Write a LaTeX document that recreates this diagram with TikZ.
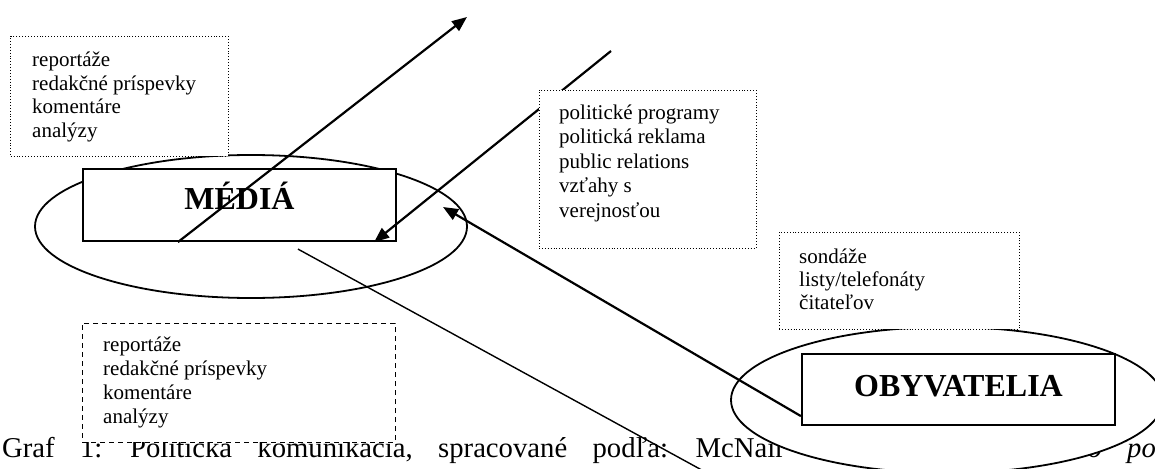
\documentclass[tikz,border=0pt]{standalone}
\usepackage{fontspec}
\setmainfont{Liberation Serif}
\usetikzlibrary{shapes.geometric,arrows.meta}
\tikzset{
 dotbox/.style={draw, dotted, line width=0.9pt, fill=white, inner sep=0, rectangle},
 dashbox/.style={draw, dash pattern=on 5pt off 4pt, line width=0.9pt, fill=white, inner sep=0, rectangle},
 solidbox/.style={draw, line width=2.2pt, fill=white, inner sep=0, rectangle},
 ell/.style={draw, ellipse, line width=1.8pt, fill=white, inner sep=0},
 arr/.style={line width=2.2pt, -{Triangle[length=15pt,width=12pt]}},
 thinline/.style={line width=1.4pt},
 listtext/.style={anchor=base west, inner sep=0, font=\fontsize{21}{23.4}\selectfont},
 captext/.style={anchor=base west, inner sep=0, font=\fontsize{28.7}{30}\selectfont},
 bigtext/.style={anchor=base, inner sep=0, font=\fontsize{32}{36}\selectfont\bfseries},
}
\begin{document}
\begin{tikzpicture}[x=1pt,y=-1pt]
\useasboundingbox (0,0) rectangle (1155,468);
\clip (0,0) rectangle (1155,468);
% caption (justified line, wide spaces)
\node[captext] (cap) at (2,457) {\spaceskip=25.3pt plus 0pt minus 0pt\relax Graf 1: Politická komunikácia, spracované podľa: McNair B.};
\node[captext] (cap2) at (1073,457) {\spaceskip=25.3pt plus 0pt minus 0pt\relax\itshape do pol};
% ellipses
\node[ell, minimum width=432, minimum height=143] (mediaell) at (251,226.5) {};
\node[ell, minimum width=432, minimum height=146] (obyvell) at (947,400) {};
% boxes under the arrows
\node[dotbox, minimum width=217.3, minimum height=120] (tlbox) at (119.35,96) {};
\node[listtext] (tltext) at (32,67) {\parbox[t]{190pt}{reportáže\\redakčné príspevky\\komentáre\\analýzy}};
\node[solidbox, minimum width=313, minimum height=72] (media) at (239.5,205) {};
\node[bigtext] (mediatext) at (239.5,209) {MÉDIÁ};
\node[solidbox, minimum width=313, minimum height=71] (obyv) at (958.5,389.5) {};
\node[bigtext] (obyvtext) at (958.5,396) {OBYVATELIA};
% connectors
\coordinate (a1s) at ([xshift=96pt]media.south west);
\coordinate (a1e) at (467,17);
\coordinate (a2s) at (611,51);
\coordinate (a2e) at ([xshift=-23pt]media.south east);
\coordinate (a3s) at ([yshift=10pt]obyv.south west);
\coordinate (a3e) at (443,207);
\coordinate (l4s) at ([xshift=58.5pt,yshift=-7pt]media.south);
\coordinate (l4e) at (720,480);
\draw[arr] (a1s) -- (a1e);
\draw[arr] (a2s) -- (a2e);
\draw[arr] (a3s) -- (a3e);
\draw[thinline] (l4s) -- (l4e);
% boxes over the connectors
\node[dotbox, minimum width=217, minimum height=158] (polbox) at (647.5,169) {};
\node[listtext, font=\fontsize{21}{24.6}\selectfont] (poltext) at (559,119) {\parbox[t]{190pt}{politické programy\\politická reklama\\public relations\\vzťahy s\\verejnosťou}};
\node[dotbox, minimum width=240, minimum height=97] (sonbox) at (899,280.5) {};
\node[listtext, font=\fontsize{21}{23}\selectfont] (sontext) at (799,263) {\parbox[t]{210pt}{sondáže\\listy/telefonáty\\čitateľov}};
\node[dashbox, minimum width=313, minimum height=119] (dbox) at (238.5,382.5) {};
\node[listtext, font=\fontsize{21}{24.3}\selectfont] (dtext) at (103,351) {\parbox[t]{250pt}{reportáže\\redakčné príspevky\\komentáre\\analýzy}};
\end{tikzpicture}
\end{document}
